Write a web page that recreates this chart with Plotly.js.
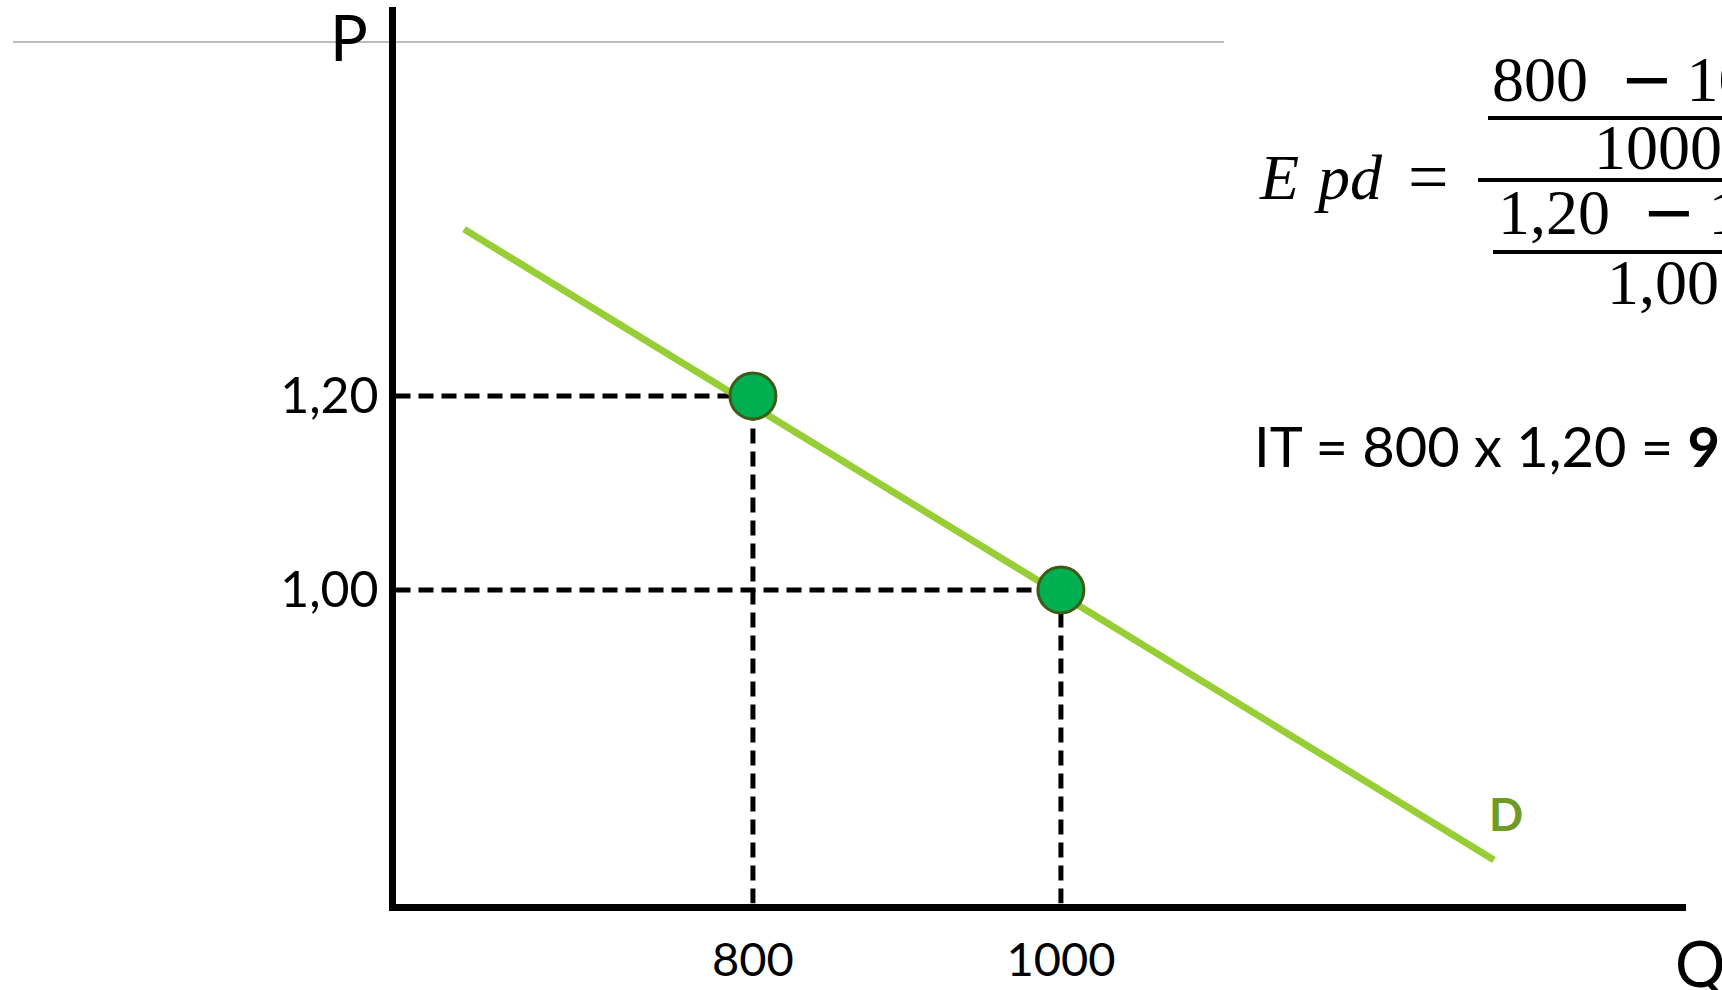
<!DOCTYPE html>
<html>
<head>
<meta charset="utf-8">
<script src="https://cdn.plot.ly/plotly-3.0.1.min.js"></script>
<style>
html,body{margin:0;padding:0;overflow:hidden;background:#fff;}
#chart{width:1722px;height:990px;}
</style>
</head>
<body>
<div id="chart"></div>
<script>
// ---- data ----
const demandQ = [612.4, 1281.2];
const demandP = [1.372, 0.7217];
const pointQ = [800, 1000];
const pointP = [1.20, 1.00];
const xTickVals = [800, 1000];
const xTickText = ["800", "1000"];
const yTickVals = [1.20, 1.00];
const yTickText = ["1,20", "1,00"];
const qRange = [567.9, 1405.9];
const pRange = [0.6768, 1.6010];
const formulaE = "E";
const formulaPd = "pd";
const formulaEq = "=";
const numA = "800", numB = "1000";
const numBottom = "1000";
const denA = "1,20", denB = "1,00";
const denBottom = "1,00";
const itText = "IT = 800 x 1,20 = <b>960</b>";

// ---- layout helpers (pixel -> paper) ----
const W = 1722, H = 990;
const px = x => x / W;
const py = y => 1 - y / H;
const LW = 7;

const traces = [];
// dashed guides
for (let i = 0; i < pointQ.length; i++) {
  traces.push({
    x: [qRange[0], pointQ[i]], y: [pointP[i], pointP[i]],
    mode: 'lines', line: {color: '#000', width: 5, dash: '15px,8px'},
    hoverinfo: 'skip', showlegend: false
  });
  traces.push({
    x: [pointQ[i], pointQ[i]], y: [pRange[0], pointP[i]],
    mode: 'lines', line: {color: '#000', width: 5, dash: '15px,8px'},
    hoverinfo: 'skip', showlegend: false
  });
}
// demand line
traces.push({
  x: demandQ, y: demandP, mode: 'lines',
  line: {color: '#97CE35', width: 7}, showlegend: false
});
// points
traces.push({
  x: pointQ, y: pointP, mode: 'markers',
  marker: {size: 46, color: '#00B050', line: {color: '#3D5A16', width: 3}},
  showlegend: false
});

const serif = "Liberation Serif";
const sans = "Lato";
const minus = '<span style="font-family:DejaVu Sans">\u2212</span>';
const ann = (x, y, text, size, family, xanchor, extra) => Object.assign({
  xref: 'paper', yref: 'paper', x: px(x), y: py(y), text: text,
  showarrow: false, xanchor: xanchor || 'center', yanchor: 'middle',
  font: {family: family, size: size, color: '#000'}
}, extra || {});

const layout = {
  width: W, height: H,
  margin: {l: 0, r: 0, t: 0, b: 0},
  paper_bgcolor: '#fff', plot_bgcolor: '#fff',
  xaxis: {
    domain: [px(392 + LW / 2), px(1686)], range: qRange,
    showgrid: false, zeroline: false, showline: true, linecolor: '#000', linewidth: LW,
    ticks: '', tickvals: xTickVals, ticktext: xTickText,
    tickfont: {family: sans, size: 47, color: '#000'}, ticklabelstandoff: 9
  },
  yaxis: {
    domain: [py(907 - LW / 2), py(7)], range: pRange,
    showgrid: false, zeroline: false, showline: true, linecolor: '#000', linewidth: LW,
    ticks: '', tickvals: yTickVals, ticktext: yTickText,
    tickfont: {family: sans, size: 50, color: '#000'}, ticklabelstandoff: 0
  },
  shapes: [
    {type: 'line', xref: 'paper', yref: 'paper', x0: px(13), x1: px(1224), y0: py(42), y1: py(42),
     line: {color: '#A6A6A6', width: 1.5}, layer: 'below'},
    {type: 'line', xref: 'paper', yref: 'paper', x0: px(1488), x1: px(1830), y0: py(118), y1: py(118),
     line: {color: '#000', width: 4}},
    {type: 'line', xref: 'paper', yref: 'paper', x0: px(1478), x1: px(1840), y0: py(180), y1: py(180),
     line: {color: '#000', width: 4}},
    {type: 'line', xref: 'paper', yref: 'paper', x0: px(1493), x1: px(1830), y0: py(252), y1: py(252),
     line: {color: '#000', width: 4}}
  ],
  annotations: [
    ann(349, 36, "P", 63, sans),
    ann(1700, 962, "Q", 63, sans),
    ann(1506, 814, "<b>D</b>", 45, sans, 'center', {font: {family: sans, size: 45, color: '#6E9A26'}}),
    ann(1257, 177, "<i>" + formulaE + "</i>", 64, serif, 'left'),
    ann(1312, 177, "<i>" + formulaPd + "</i>", 64, serif, 'left'),
    ann(1406, 177, formulaEq, 72, serif, 'left'),
    ann(1490, 79, numA + "\u2002" + minus + "\u2009" + numB, 64, serif, 'left'),
    ann(1658, 148, numBottom, 64, serif),
    ann(1496, 212, denA + "\u2002" + minus + "\u2009" + denB, 64, serif, 'left'),
    ann(1663, 282, denBottom, 64, serif),
    ann(1252, 445, itText, 56, sans, 'left')
  ]
};

Plotly.newPlot('chart', traces, layout, {displayModeBar: false, staticPlot: true});
</script>
</body>
</html>
